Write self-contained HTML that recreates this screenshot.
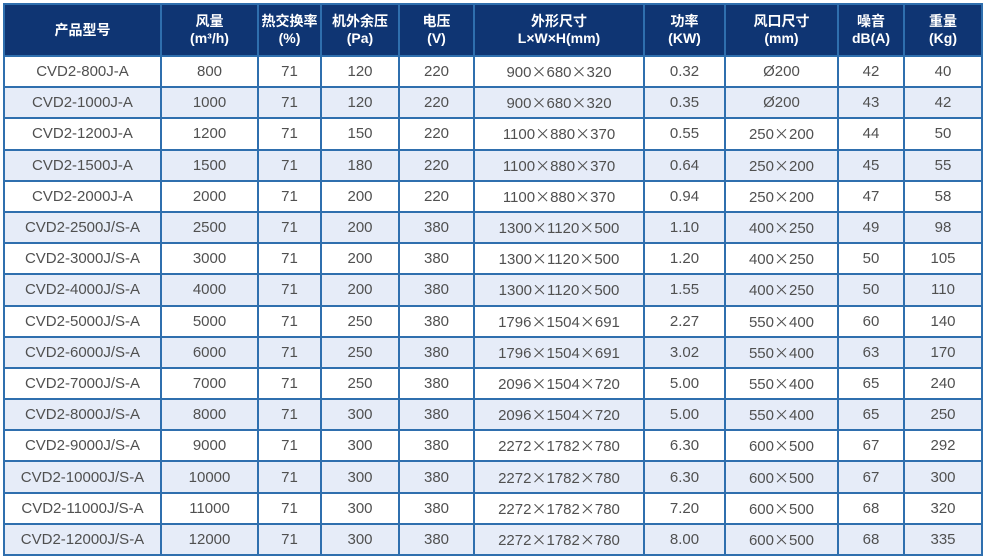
<!DOCTYPE html><html><head><style>
body{margin:0;background:#fff;width:983px;height:560px;overflow:hidden}
table{position:absolute;left:3px;top:3px;border-collapse:collapse;table-layout:fixed;font-family:"Liberation Sans","Noto Sans CJK SC",sans-serif}
td,th{border:2px solid #2f6fae;text-align:center;padding:0;color:#505050;font-size:15px;font-weight:normal}
th{background:#0f3573;color:#fff;font-weight:bold;font-size:14px;line-height:17px;height:50px}
td{height:29.2px}
tr:nth-child(odd) td{background:#e6ecf8}
tr:nth-child(even) td{background:#fff}
b{font-family:"Noto Sans CJK SC",sans-serif;font-weight:normal}
</style></head><body>
<table>
<colgroup><col style="width:157px"><col style="width:97px"><col style="width:63px"><col style="width:78px"><col style="width:75px"><col style="width:170px"><col style="width:81px"><col style="width:113px"><col style="width:66px"><col style="width:78px"></colgroup>
<tr><th>产品型号</th><th>风量<br>(m³/h)</th><th>热交换率<br>(%)</th><th>机外余压<br>(Pa)</th><th>电压<br>(V)</th><th>外形尺寸<br>L×W×H(mm)</th><th>功率<br>(KW)</th><th>风口尺寸<br>(mm)</th><th>噪音<br>dB(A)</th><th>重量<br>(Kg)</th></tr>
<tr><td>CVD2-800J-A</td><td>800</td><td>71</td><td>120</td><td>220</td><td>900<b>×</b>680<b>×</b>320</td><td>0.32</td><td>Ø200</td><td>42</td><td>40</td></tr>
<tr><td>CVD2-1000J-A</td><td>1000</td><td>71</td><td>120</td><td>220</td><td>900<b>×</b>680<b>×</b>320</td><td>0.35</td><td>Ø200</td><td>43</td><td>42</td></tr>
<tr><td>CVD2-1200J-A</td><td>1200</td><td>71</td><td>150</td><td>220</td><td>1100<b>×</b>880<b>×</b>370</td><td>0.55</td><td>250<b>×</b>200</td><td>44</td><td>50</td></tr>
<tr><td>CVD2-1500J-A</td><td>1500</td><td>71</td><td>180</td><td>220</td><td>1100<b>×</b>880<b>×</b>370</td><td>0.64</td><td>250<b>×</b>200</td><td>45</td><td>55</td></tr>
<tr><td>CVD2-2000J-A</td><td>2000</td><td>71</td><td>200</td><td>220</td><td>1100<b>×</b>880<b>×</b>370</td><td>0.94</td><td>250<b>×</b>200</td><td>47</td><td>58</td></tr>
<tr><td>CVD2-2500J/S-A</td><td>2500</td><td>71</td><td>200</td><td>380</td><td>1300<b>×</b>1120<b>×</b>500</td><td>1.10</td><td>400<b>×</b>250</td><td>49</td><td>98</td></tr>
<tr><td>CVD2-3000J/S-A</td><td>3000</td><td>71</td><td>200</td><td>380</td><td>1300<b>×</b>1120<b>×</b>500</td><td>1.20</td><td>400<b>×</b>250</td><td>50</td><td>105</td></tr>
<tr><td>CVD2-4000J/S-A</td><td>4000</td><td>71</td><td>200</td><td>380</td><td>1300<b>×</b>1120<b>×</b>500</td><td>1.55</td><td>400<b>×</b>250</td><td>50</td><td>110</td></tr>
<tr><td>CVD2-5000J/S-A</td><td>5000</td><td>71</td><td>250</td><td>380</td><td>1796<b>×</b>1504<b>×</b>691</td><td>2.27</td><td>550<b>×</b>400</td><td>60</td><td>140</td></tr>
<tr><td>CVD2-6000J/S-A</td><td>6000</td><td>71</td><td>250</td><td>380</td><td>1796<b>×</b>1504<b>×</b>691</td><td>3.02</td><td>550<b>×</b>400</td><td>63</td><td>170</td></tr>
<tr><td>CVD2-7000J/S-A</td><td>7000</td><td>71</td><td>250</td><td>380</td><td>2096<b>×</b>1504<b>×</b>720</td><td>5.00</td><td>550<b>×</b>400</td><td>65</td><td>240</td></tr>
<tr><td>CVD2-8000J/S-A</td><td>8000</td><td>71</td><td>300</td><td>380</td><td>2096<b>×</b>1504<b>×</b>720</td><td>5.00</td><td>550<b>×</b>400</td><td>65</td><td>250</td></tr>
<tr><td>CVD2-9000J/S-A</td><td>9000</td><td>71</td><td>300</td><td>380</td><td>2272<b>×</b>1782<b>×</b>780</td><td>6.30</td><td>600<b>×</b>500</td><td>67</td><td>292</td></tr>
<tr><td>CVD2-10000J/S-A</td><td>10000</td><td>71</td><td>300</td><td>380</td><td>2272<b>×</b>1782<b>×</b>780</td><td>6.30</td><td>600<b>×</b>500</td><td>67</td><td>300</td></tr>
<tr><td>CVD2-11000J/S-A</td><td>11000</td><td>71</td><td>300</td><td>380</td><td>2272<b>×</b>1782<b>×</b>780</td><td>7.20</td><td>600<b>×</b>500</td><td>68</td><td>320</td></tr>
<tr><td>CVD2-12000J/S-A</td><td>12000</td><td>71</td><td>300</td><td>380</td><td>2272<b>×</b>1782<b>×</b>780</td><td>8.00</td><td>600<b>×</b>500</td><td>68</td><td>335</td></tr>
</table>
</body></html>
